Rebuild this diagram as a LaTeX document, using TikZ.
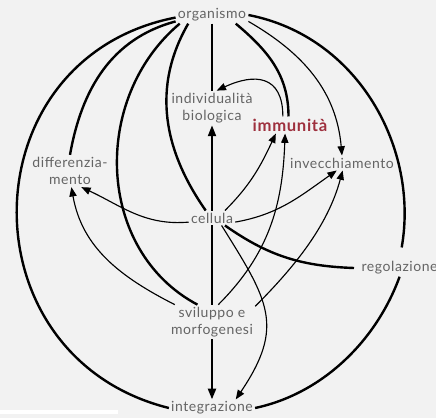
\documentclass[tikz,border=0pt]{standalone}
\usepackage{fontspec}
\setmainfont{Lato}[LetterSpace=4]
\usetikzlibrary{arrows.meta}
\definecolor{txtgray}{RGB}{100,100,100}
\definecolor{immred}{RGB}{158,48,62}
\definecolor{bggray}{RGB}{242,242,242}
\tikzset{
lbl/.style={text=txtgray, font=\fontsize{10.5}{13}\selectfont, align=center, inner sep=1.5pt},
strong link/.style={line width=1.8pt},
mid link/.style={line width=1.3pt, -{Triangle[length=8pt,width=6pt]}},
weak link/.style={line width=0.85pt, -{Triangle[length=7pt,width=5.5pt]}},
}

\begin{document}
\begin{tikzpicture}[x=0.75pt,y=0.75pt,yscale=-1]
\useasboundingbox (0,0) rectangle (436,418);
\fill[bggray] (0,0) rectangle (436,418);
\fill[white] (0,410) rectangle (118,414);

% Text Node
\node[lbl] (org) at (212,15) {organismo};
\node[lbl] (indiv) at (212,108) {individualità\\biologica};
\node[lbl, text=immred, font=\bfseries\fontsize{12.5}{14}\selectfont] (immun) at (290,125) {immunità};
\node[lbl] (diff) at (70,171) {differenzia-\\mento};
\node[lbl] (invec) at (342,163) {invecchiamento};
\node[lbl] (cell) at (212,218) {cellula};
\node[lbl, anchor=west, inner xsep=5.5pt] (reg) at (354,268) {regolazione};
\node[lbl] (svil) at (212,322) {sviluppo e\\morfogenesi};
\node[lbl] (integ) at (212,408) {integrazione};

% outer ring (angles negated: y axis points down)
\draw[strong link] (org.184) to[out=-191,in=-166,looseness=1.39] (integ.west);
\draw[strong link, shorten >=9pt] (org.east) to[out=11,in=-80,looseness=1] (reg.north);
\draw[strong link] (reg.south) to[out=-250,in=-12,looseness=0.9] (integ.east);

% from organismo
\draw[strong link] (org.190) to[out=-195,in=-80] (diff.north);
\draw[strong link] (org.195) to[out=-220,in=-152,looseness=1.05] (svil.130);
\draw[strong link] (org.200) to[out=-240,in=-125] (cell.130);
\draw[strong link] (org.south) -- (indiv.north);
\draw[strong link] (org.340) to[out=-320,in=-90] (immun.100);
\draw[weak link] (org.350) to[out=-330,in=-95] (invec.north);

% immunita
\draw[weak link] (immun.130) to[out=-90,in=-25,looseness=1.5] (indiv.75);

% from cellula
\draw[mid link] (cell.north) -- (indiv.south);
\draw[weak link] (cell.30) to[out=-45,in=-245] (immun.211);
\draw[weak link] (cell.350) to[out=-10,in=-215] (invec.235);
\draw[weak link] (cell.190) to[out=-185,in=-335] (diff.305);
\draw[strong link] (cell.330) to[out=35,in=-178] (reg.west);
\draw[strong link] (cell.south) -- (svil.north);
\draw[weak link] (cell.322) to[out=58,in=-56,looseness=1.3] (integ.20);

% from sviluppo e morfogenesi
\draw[weak link] (svil.70) to[out=-45,in=-268] (immun.240);
\draw[weak link] (svil.20) to[out=-45,in=-255,looseness=0.9] (invec.275);
\draw[weak link] (svil.155) to[out=-153,in=-280] (diff.275);
\draw[mid link, line width=1.6pt] (svil.south) -- (integ.north);

\end{tikzpicture}
\end{document}
